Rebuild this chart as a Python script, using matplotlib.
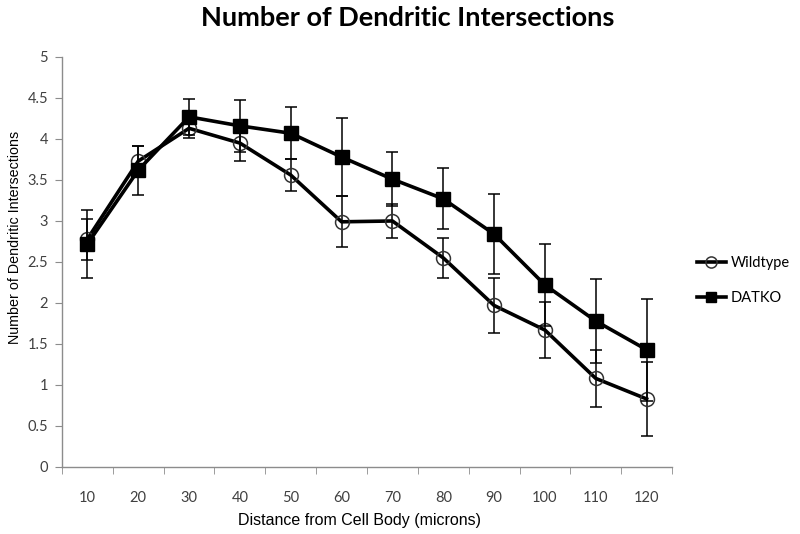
import numpy as np
import matplotlib
matplotlib.use('Agg')
import matplotlib.pyplot as plt
from matplotlib.lines import Line2D

# ---------- data ----------
distance = [10, 20, 30, 40, 50, 60, 70, 80, 90, 100, 110, 120]

wildtype     = [2.78, 3.73, 4.13, 3.95, 3.56, 2.99, 3.00, 2.55, 1.97, 1.67, 1.08, 0.83]
wildtype_err = [0.25, 0.18, 0.12, 0.22, 0.19, 0.31, 0.21, 0.24, 0.33, 0.34, 0.35, 0.45]

datko     = [2.72, 3.62, 4.27, 4.16, 4.07, 3.78, 3.51, 3.27, 2.84, 2.22, 1.78, 1.43]
datko_err = [0.41, 0.30, 0.22, 0.32, 0.32, 0.47, 0.33, 0.37, 0.49, 0.50, 0.51, 0.62]

AXIS_GREY = '#8c8c8c'
TEXT_GREY = '#404040'

fig = plt.figure(figsize=(8, 5.34), dpi=100)
ax = fig.add_axes([0.0775, 0.1255, 0.7625, 0.7678])

x = np.arange(len(distance))

wt_style = dict(color='black', lw=2.6, marker='o', ms=10, mfc='none',
                mec='#333333', mew=1.1)
ko_style = dict(color='black', lw=2.6, marker='s', ms=9.5, mfc='black',
                mec='black')

ax.errorbar(x, wildtype, yerr=wildtype_err, ecolor='black', elinewidth=1.1,
            capsize=4, capthick=1.1, zorder=3, **wt_style)
ax.errorbar(x, datko, yerr=datko_err, ecolor='black', elinewidth=1.1,
            capsize=4, capthick=1.1, zorder=4, **ko_style)

ax.set_xlim(-0.5, len(distance) - 0.5)
ax.set_ylim(0, 5)
ax.set_yticks(np.arange(0, 5.01, 0.5))
ax.set_yticklabels(['0', '0.5', '1', '1.5', '2', '2.5', '3', '3.5', '4', '4.5', '5'])
ax.set_xticks(x)
ax.set_xticklabels([str(d) for d in distance])
ax.set_xticks(np.arange(-0.5, len(distance), 1), minor=True)

for s in ['top', 'right']:
    ax.spines[s].set_visible(False)
for s in ['left', 'bottom']:
    ax.spines[s].set_color(AXIS_GREY)
    ax.spines[s].set_linewidth(1)

ax.tick_params(axis='x', which='major', length=0, pad=17,
               labelsize=10.5, labelcolor=TEXT_GREY)
ax.tick_params(axis='x', which='minor', length=5, color=AXIS_GREY)
ax.tick_params(axis='y', length=5, color=AXIS_GREY, pad=5,
               labelsize=10.5, labelcolor=TEXT_GREY)
for lbl in ax.get_xticklabels() + ax.get_yticklabels():
    lbl.set_fontfamily('Lato')

ax.set_xlabel('Distance from Cell Body (microns)', fontsize=11.5,
              family='Liberation Sans')
ax.xaxis.set_label_coords(0.487, -0.112)
ax.set_ylabel('Number of Dendritic Intersections', fontsize=10.3,
              family='Liberation Sans')
ax.yaxis.set_label_coords(-0.066, 0.559)

fig.text(0.509, 0.966, 'Number of Dendritic Intersections', ha='center',
         va='center', fontsize=19.5, fontweight='bold', family='Lato')

handles = [Line2D([], [], **dict(wt_style, ms=8)),
           Line2D([], [], **dict(ko_style, ms=7.5))]
fig.legend(handles, ['Wildtype', 'DATKO'], loc='center left',
           bbox_to_anchor=(0.871, 0.474), frameon=False,
           prop={'family': 'Lato', 'size': 10.5}, handlelength=2.0,
           handletextpad=0.3, labelspacing=1.45, borderpad=0, borderaxespad=0)

fig.savefig('out.png', dpi=100)
